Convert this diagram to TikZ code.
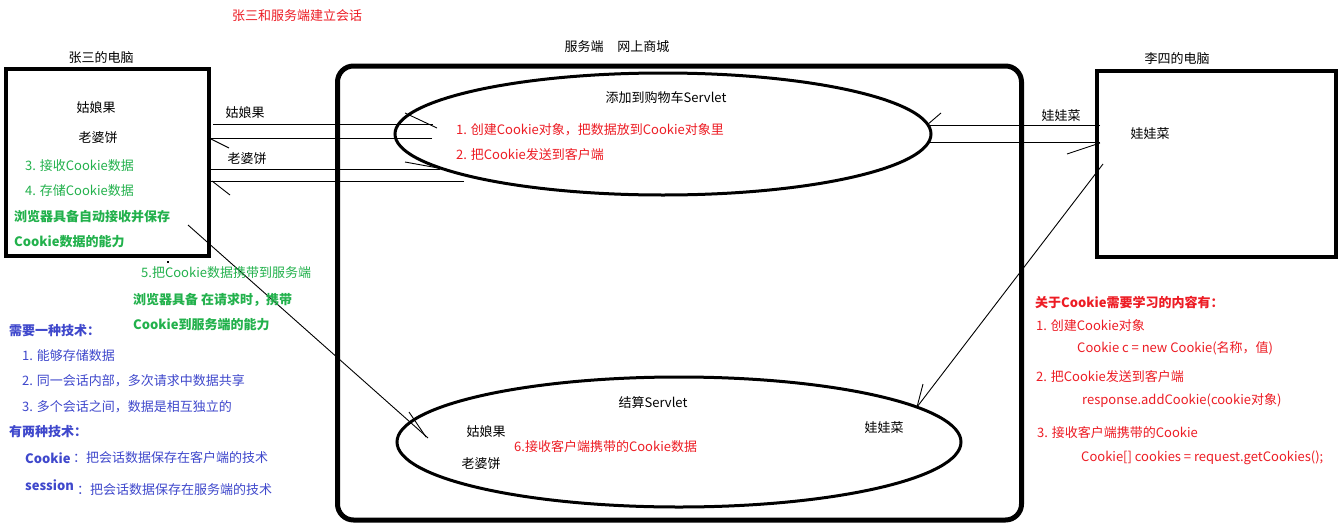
\documentclass[tikz,border=0pt]{standalone}
\usepackage{fontspec}
\setmainfont{Noto Sans CJK SC}
\usetikzlibrary{shapes.geometric}
\definecolor{pred}{HTML}{ED1C24}
\definecolor{pgreen}{HTML}{22B14C}
\definecolor{pblue}{HTML}{3F48CC}
\begin{document}
\begin{tikzpicture}[x=1pt,y=-1pt,
  txt/.style={inner sep=0pt, font=\fontsize{13}{15}\selectfont},
  lt/.style={txt, anchor=west},
  rtxt/.style={lt, text=pred},
  gtxt/.style={lt, text=pgreen},
  btxt/.style={lt, text=pblue},
  pcbox/.style={draw, line width=3.5pt, rectangle, inner sep=0pt},
  srvbox/.style={draw, line width=5pt, rectangle, rounded corners=16pt, inner sep=0pt},
  oval/.style={draw, line width=3pt, ellipse, inner sep=0pt},
  wire/.style={line width=0.9pt}
]
\useasboundingbox (0,0) rectangle (1338,530);
\fill[white] (0,0) rectangle (1338,530);

% title
\node[txt, text=pred] (title) at (297,16) {张三和服务端建立会话};

% Zhang San computer
\node[txt] (zslabel) at (101,58) {张三的电脑};
\node[pcbox, minimum width=203pt, minimum height=187pt] (zs) at (107.5,162.5) {};
\node[txt] (zs1) at (96,108) {姑娘果};
\node[txt] (zs2) at (98,138) {老婆饼};
\node[gtxt] (zs3) at (25,166) {3. 接收Cookie数据};
\node[gtxt] (zs4) at (25,191) {4. 存储Cookie数据};
\node[gtxt, font=\fontsize{13}{15}\selectfont\bfseries] (zs5) at (14,217) {浏览器具备自动接收并保存};
\node[gtxt, font=\fontsize{13}{15}\selectfont\bfseries] (zs6) at (14,242) {Cookie数据的能力};
\fill (167,261) rectangle (169,263);

% server
\node[txt] (srvlabel) at (617,47) {服务端\hspace{14pt}网上商城};
\node[srvbox, minimum width=684pt, minimum height=454pt] (srv) at (679.5,293) {};

% top servlet
\node[oval, minimum width=536pt, minimum height=122pt] (cart) at (663,134) {};
\node[txt] (cartt) at (666,98) {添加到购物车Servlet};
\node[rtxt] (cart1) at (456,130) {1. 创建Cookie对象，把数据放到Cookie对象里};
\node[rtxt] (cart2) at (456,155) {2. 把Cookie发送到客户端};

% bottom servlet
\node[oval, minimum width=564pt, minimum height=130pt] (pay) at (679,442) {};
\node[txt] (payt) at (653,403) {结算Servlet};
\node[txt] (pay1) at (486,432) {姑娘果};
\node[txt] (pay2) at (481,464) {老婆饼};
\node[rtxt] (pay3) at (514,447) {6.接收客户端携带的Cookie数据};
\node[txt] (pay4) at (884,428) {娃娃菜};

% Li Si computer
\node[txt] (lslabel) at (1177,59) {李四的电脑};
\node[pcbox, minimum width=239pt, minimum height=186pt] (ls) at (1216.5,164) {};
\node[txt] (ls1) at (1150,134) {娃娃菜};

% connector labels
\node[txt] (l1) at (245,113) {姑娘果};
\node[txt] (l2) at (247,159) {老婆饼};
\node[txt] (l3) at (1061,116) {娃娃菜};

% left connectors
\coordinate (a1s) at (213,124); \coordinate (a1e) at (433,124);
\coordinate (a1h) at (405,113); \coordinate (a1t) at (437,128);
\draw[wire] (a1s) -- (a1e); \draw[wire] (a1h) -- (a1t);
\coordinate (a2s) at (432,138); \coordinate (a2e) at (207,138);
\coordinate (a2h) at (229,148); \coordinate (a2t) at (211,139);
\draw[wire] (a2s) -- (a2e); \draw[wire] (a2h) -- (a2t);
\coordinate (a3s) at (207,169); \coordinate (a3e) at (440,169);
\coordinate (a3h) at (405,162); \coordinate (a3t) at (438,168);
\draw[wire] (a3s) -- (a3e); \draw[wire] (a3h) -- (a3t);
\coordinate (a4s) at (464,181); \coordinate (a4e) at (209,181);
\coordinate (a4h) at (230,195); \coordinate (a4t) at (212,181);
\draw[wire] (a4s) -- (a4e); \draw[wire] (a4h) -- (a4t);

% right connectors
\coordinate (b1s) at (1100,125); \coordinate (b1e) at (927,125);
\coordinate (b1h) at (941,113);
\draw[wire] (b1s) -- (b1e); \draw[wire] (b1h) -- (b1e);
\coordinate (b2s) at (930,142); \coordinate (b2e) at (1100,142);
\coordinate (b2h) at (1067,154); \coordinate (b2t) at (1100,143);
\draw[wire] (b2s) -- (b2e); \draw[wire] (b2h) -- (b2t);
\coordinate (b3s) at (1103,164); \coordinate (b3e) at (917,407);
\coordinate (b3h) at (923,384);
\draw[wire] (b3s) -- (b3e); \draw[wire] (b3h) -- (b3e);

% left diagonal
\coordinate (c1s) at (188,225); \coordinate (c1e) at (428,438);
\coordinate (c1h) at (409,412); \coordinate (c1t) at (426,437);
\draw[wire] (c1s) -- (c1e); \draw[wire] (c1h) -- (c1t);

% green notes
\node[gtxt] (n5) at (141,273) {5.把Cookie数据携带到服务端};
\node[gtxt, font=\fontsize{13}{15}\selectfont\bfseries] (n6) at (133,300) {浏览器具备 在请求时，携带};
\node[gtxt, font=\fontsize{13}{15}\selectfont\bfseries] (n7) at (133,325) {Cookie到服务端的能力};

% blue notes
\node[btxt, font=\fontsize{13}{15}\selectfont\bfseries] (t0) at (9,331) {需要一种技术：};
\node[btxt] (t1) at (22,356) {1. 能够存储数据};
\node[btxt] (t2) at (22,381) {2. 同一会话内部，多次请求中数据共享};
\node[btxt] (t3) at (22,407) {3. 多个会话之间，数据是相互独立的};
\node[btxt, font=\fontsize{13}{15}\selectfont\bfseries] (t4) at (9,432) {有两种技术：};
\node[btxt, font=\fontsize{13}{15}\selectfont\bfseries] (t5) at (25,458) {Cookie};
\node[btxt] (t5b) at (73,458) {：把会话数据保存在客户端的技术};
\node[btxt, font=\fontsize{13}{15}\selectfont\bfseries] (t6) at (25,485) {session};
\node[btxt] (t6b) at (77,490) {：把会话数据保存在服务端的技术};

% red notes
\node[rtxt, font=\fontsize{13}{15}\selectfont\bfseries] (r0) at (1035,302) {关于Cookie需要学习的内容有：};
\node[rtxt] (r1) at (1036,326) {1. 创建Cookie对象};
\node[rtxt] (r2) at (1077,348) {Cookie c = new Cookie(名称，值)};
\node[rtxt] (r3) at (1036,377) {2. 把Cookie发送到客户端};
\node[rtxt] (r4) at (1082,400) {response.addCookie(cookie对象)};
\node[rtxt] (r5) at (1037,433) {3. 接收客户端携带的Cookie};
\node[rtxt] (r6) at (1081,458) {Cookie[] cookies = request.getCookies();};
\end{tikzpicture}
\end{document}
